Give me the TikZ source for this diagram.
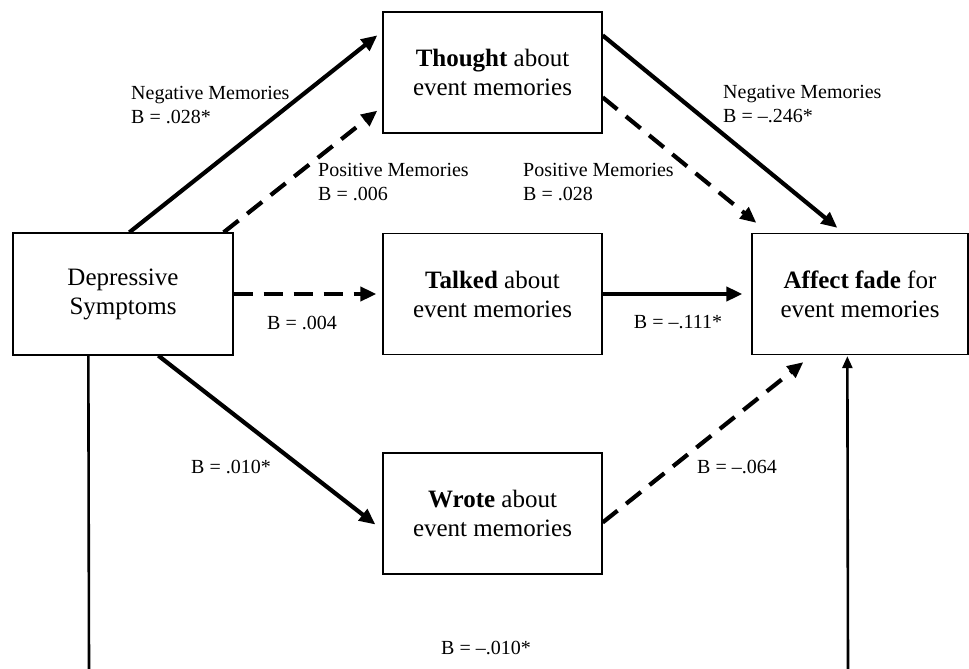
\documentclass[tikz,border=0pt]{standalone}
\usepackage{fontspec}
\setmainfont{Liberation Serif}
\usetikzlibrary{arrows.meta,calc}
\begin{document}
\begin{tikzpicture}[x=1pt,y=-1pt,
  box/.style={draw,line width=1.3pt,minimum width=219pt,minimum height=121pt,inner sep=0pt,align=center,font=\fontsize{25}{29}\selectfont},
  lbl/.style={align=left,anchor=west,inner sep=0pt,font=\fontsize{20}{24}\selectfont},
  clbl/.style={align=center,inner sep=0pt,font=\fontsize{20}{24}\selectfont},
  arr/.style={line width=4.2pt,-{Triangle[length=16pt,width=14pt]}},
  dsh/.style={arr,dash pattern=on 19pt off 11pt},
  vline/.style={line width=2.6pt}
]
\useasboundingbox (0,0) rectangle (969,669);
\node[box,minimum width=220pt,minimum height=122pt] (dep) at (123,294) {Depressive\\Symptoms};
\node[box] (thought) at (492.5,72.5) {\textbf{Thought} about\\event memories};
\node[box] (talked) at (492.5,294) {\textbf{Talked} about\\event memories};
\node[box] (wrote) at (492.5,513.5) {\textbf{Wrote} about\\event memories};
\node[box,minimum width=216pt] (affect) at (860,294) {\textbf{Affect fade} for\\event memories};

\coordinate (b1) at (89,669);
\coordinate (b2) at (848,669);

\draw[arr] ($(dep.north west)+(117,0)$) -- ($(thought.north west)+(-5,24)$);
\draw[dsh] ($(dep.north east)+(-10,0)$) -- ($(thought.south west)+(-5,-23)$);
\draw[arr] ($(thought.north east)+(0,24)$) -- ($(affect.north west)+(86,-5)$);
\draw[dsh] ($(thought.north east)+(0,86)$) -- ($(affect.north west)+(5,-10)$);
\draw[dsh] (dep.east) -- ($(talked.west)+(-6,0)$);
\draw[arr] (talked.east) -- ($(affect.west)+(-9,0)$);
\draw[arr] ($(dep.south west)+(146,0)$) -- ($(wrote.west)+(-7,11)$);
\draw[dsh] ($(wrote.east)+(0,9)$) -- ($(affect.south west)+(52,7)$);
\draw[vline] ($(dep.south west)+(76,0)$) -- (b1);
\draw[vline,-{Triangle[length=12pt,width=10pt]}] (b2) -- ($(affect.south west)+(96,1)$);

\node[lbl] (l1) at (131,105) {Negative Memories\\B = .028*};
\node[lbl] (l2) at (318,182) {Positive Memories\\B = .006};
\node[lbl] (l3) at (523,182) {Positive Memories\\B = .028};
\node[lbl] (l4) at (723,104) {Negative Memories\\B = –.246*};
\node[clbl] (l5) at (302,323) {B = .004};
\node[clbl] (l6) at (678,322) {B = –.111*};
\node[clbl] (l7) at (231,467) {B = .010*};
\node[clbl] (l8) at (737,467) {B = –.064};
\node[clbl] (l9) at (486,648) {B = –.010*};
\end{tikzpicture}
\end{document}
